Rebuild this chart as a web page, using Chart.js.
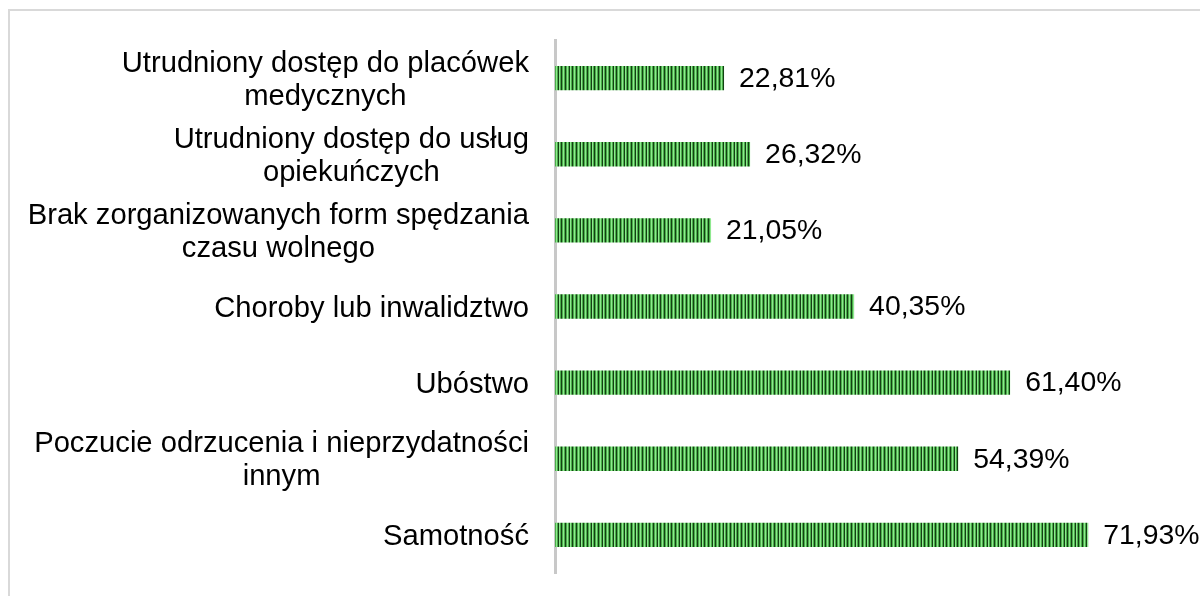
<!DOCTYPE html>
<html>
<head>
<meta charset="utf-8">
<style>
html,body{margin:0;padding:0;background:#fff;overflow:hidden}
#wrap{position:relative;width:1200px;height:596px}
</style>
<script src="https://cdn.jsdelivr.net/npm/chart.js@4.4.1/dist/chart.umd.min.js"></script>
</head>
<body>
<div id="wrap"><canvas id="c" width="1200" height="596"></canvas></div>
<script>
const categories = [
  ['Utrudniony dostęp do placówek', 'medycznych'],
  ['Utrudniony dostęp do usług', 'opiekuńczych'],
  ['Brak zorganizowanych form spędzania', 'czasu wolnego'],
  ['Choroby lub inwalidztwo'],
  ['Ubóstwo'],
  ['Poczucie odrzucenia i nieprzydatności', 'innym'],
  ['Samotność']
];
const values = [22.81, 26.32, 21.05, 40.35, 61.40, 54.39, 71.93];
const valueLabels = ['22,81%', '26,32%', '21,05%', '40,35%', '61,40%', '54,39%', '71,93%'];
const axisMin = 0;
const axisMax = 80;

const CAT_FONT = '29.2px "Liberation Sans", Arial, sans-serif';
const VAL_FONT = '28.4px "Liberation Sans", Arial, sans-serif';

const canvas = document.getElementById('c');
const ctx = canvas.getContext('2d');

// striped bar pattern
const D = '#143f14', M = '#4aae4a', L = '#8fe98f';
const stripe = [D, M, L, M, D, M, L, M, D, L, M];
const pc = document.createElement('canvas');
pc.width = stripe.length; pc.height = 1;
const pctx = pc.getContext('2d');
stripe.forEach((c, i) => { pctx.fillStyle = c; pctx.fillRect(i, 0, 1, 1); });
const pattern = ctx.createPattern(pc, 'repeat');

const framePlugin = {
  id: 'frame',
  beforeDraw(chart) {
    const c = chart.ctx;
    c.save();
    c.fillStyle = '#ffffff';
    c.fillRect(0, 0, chart.width, chart.height);
    c.strokeStyle = '#d9d9d9';
    c.lineWidth = 2;
    c.strokeRect(9, 10, 1400, 800);
    c.restore();
  }
};

const labelsPlugin = {
  id: 'labelsDraw',
  afterDatasetsDraw(chart) {
    const c = chart.ctx;
    const meta = chart.getDatasetMeta(0);
    const yScale = chart.scales.y;
    c.save();
    c.fillStyle = '#000000';
    c.textBaseline = 'middle';
    // value labels
    c.font = VAL_FONT;
    meta.data.forEach((bar, i) => {
      c.textAlign = 'left';
      c.fillText(valueLabels[i], bar.x + 15, bar.y + 1);
    });
    // category labels (block right-aligned, lines centered)
    c.font = CAT_FONT;
    const rightX = 529;
    const lh = 33;
    categories.forEach((lines, i) => {
      const yc = yScale.getPixelForValue(i);
      let maxW = 0;
      lines.forEach(l => { maxW = Math.max(maxW, c.measureText(l).width); });
      const cx = rightX - maxW / 2;
      const y0 = yc - (lines.length - 1) * lh / 2;
      c.textAlign = 'center';
      lines.forEach((l, k) => c.fillText(l, cx, y0 + k * lh + 2));
    });
    c.restore();
  }
};

new Chart(canvas, {
  type: 'bar',
  data: {
    labels: categories,
    datasets: [{
      data: values,
      backgroundColor: pattern,
      borderWidth: 0,
      barPercentage: 0.32,
      categoryPercentage: 1.0
    }]
  },
  options: {
    indexAxis: 'y',
    responsive: false,
    devicePixelRatio: 1,
    animation: false,
    layout: { padding: { left: 555, right: 52, top: 40, bottom: 23 } },
    plugins: { legend: { display: false }, tooltip: { enabled: false } },
    scales: {
      x: { display: false, min: axisMin, max: axisMax },
      y: {
        grid: { display: false },
        ticks: { display: false },
        border: { display: true, color: '#c8c8c8', width: 3 },
        afterFit(scale) { scale.width = 0; }
      }
    }
  },
  plugins: [framePlugin, labelsPlugin]
});
</script>
</body>
</html>
